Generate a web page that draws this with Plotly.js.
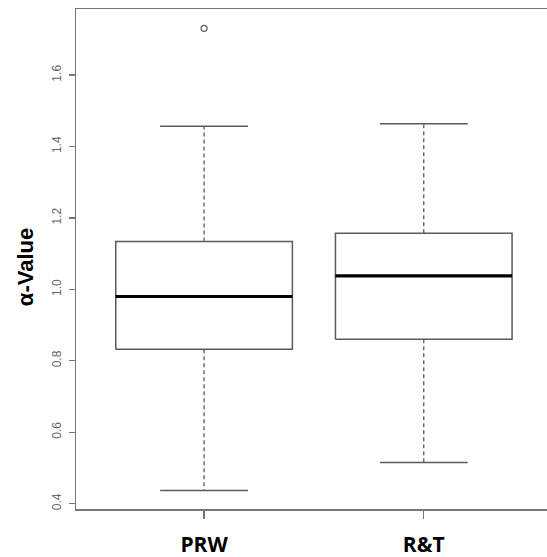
<!DOCTYPE html>
<html>
<head>
<meta charset="utf-8">
<script src="https://cdn.plot.ly/plotly-3.0.1.min.js"></script>
<style>html,body{margin:0;padding:0;background:#fff;}#chart{width:547px;height:557px;}</style>
</head>
<body>
<div id="chart"></div>
<script>
// Data
var categories = ["PRW", "R&T"];
var lowerWhisker = [0.437, 0.515];
var q1 = [0.832, 0.860];
var median = [0.980, 1.038];
var q3 = [1.134, 1.157];
var upperWhisker = [1.457, 1.464];
var outliers = [[1.731], []];
var yTicks = [0.4, 0.6, 0.8, 1.0, 1.2, 1.4, 1.6];

var boxHalf = 0.402, capHalf = 0.2;
var boxColor = "#5a5a5a";

var traces = [];
categories.forEach(function (cat, i) {
  var c = i + 1;
  traces.push({
    type: "scatter", mode: "lines", hoverinfo: "skip", showlegend: false,
    x: [c - boxHalf, c + boxHalf, c + boxHalf, c - boxHalf, c - boxHalf],
    y: [q1[i], q1[i], q3[i], q3[i], q1[i]],
    line: {color: boxColor, width: 1.5}
  });
  traces.push({
    type: "scatter", mode: "lines", hoverinfo: "skip", showlegend: false,
    x: [c, c, null, c, c],
    y: [q3[i], upperWhisker[i], null, q1[i], lowerWhisker[i]],
    line: {color: boxColor, width: 1.3, dash: "4px,3px"}
  });
  traces.push({
    type: "scatter", mode: "lines", hoverinfo: "skip", showlegend: false,
    x: [c - capHalf, c + capHalf, null, c - capHalf, c + capHalf],
    y: [upperWhisker[i], upperWhisker[i], null, lowerWhisker[i], lowerWhisker[i]],
    line: {color: boxColor, width: 1.5}
  });
  traces.push({
    type: "scatter", mode: "lines", hoverinfo: "skip", showlegend: false,
    x: [c - boxHalf, c + boxHalf],
    y: [median[i], median[i]],
    line: {color: "#000000", width: 3.2}
  });
  if (outliers[i].length) {
    traces.push({
      type: "scatter", mode: "markers", hoverinfo: "skip", showlegend: false,
      x: outliers[i].map(function () { return c; }),
      y: outliers[i],
      marker: {symbol: "circle-open", size: 6, color: "#666", line: {width: 1.3, color: "#666"}}
    });
  }
});

var layout = {
  width: 547, height: 557,
  margin: {l: 76, r: 0, t: 9, b: 48},
  paper_bgcolor: "#fff", plot_bgcolor: "#fff",
  showlegend: false,
  xaxis: {
    range: [0.417, 2.561],
    tickvals: categories.map(function (c, i) { return i + 1; }),
    ticktext: categories,
    showgrid: false, zeroline: false,
    showline: true, mirror: true, linecolor: "#777", linewidth: 1.5,
    ticks: "outside", ticklen: 8, tickwidth: 1.3, tickcolor: "#777",
    ticklabelstandoff: 8,
    tickfont: {family: "Open Sans", size: 21, color: "#000", weight: "bold"}
  },
  yaxis: {
    range: [0.385, 1.785],
    tickvals: yTicks,
    ticktext: yTicks.map(function (v) { return v.toFixed(1); }),
    tickangle: -90,
    showgrid: false, zeroline: false,
    showline: true, linecolor: "#777", linewidth: 1.5,
    ticks: "outside", ticklen: 6, tickwidth: 1.3, tickcolor: "#777",
    ticklabelstandoff: 3,
    tickfont: {family: "Liberation Sans, Arial, sans-serif", size: 12, color: "#666"}
  },
  annotations: [{
    text: "<b>α-Value</b>", xref: "paper", yref: "paper",
    x: -0.108, y: 0.484, xanchor: "center", yanchor: "middle",
    textangle: -90, showarrow: false,
    font: {family: "Liberation Sans, Arial, sans-serif", size: 22, color: "#000"}
  }]
};

Plotly.newPlot("chart", traces, layout, {staticPlot: true, displayModeBar: false});
</script>
</body>
</html>
